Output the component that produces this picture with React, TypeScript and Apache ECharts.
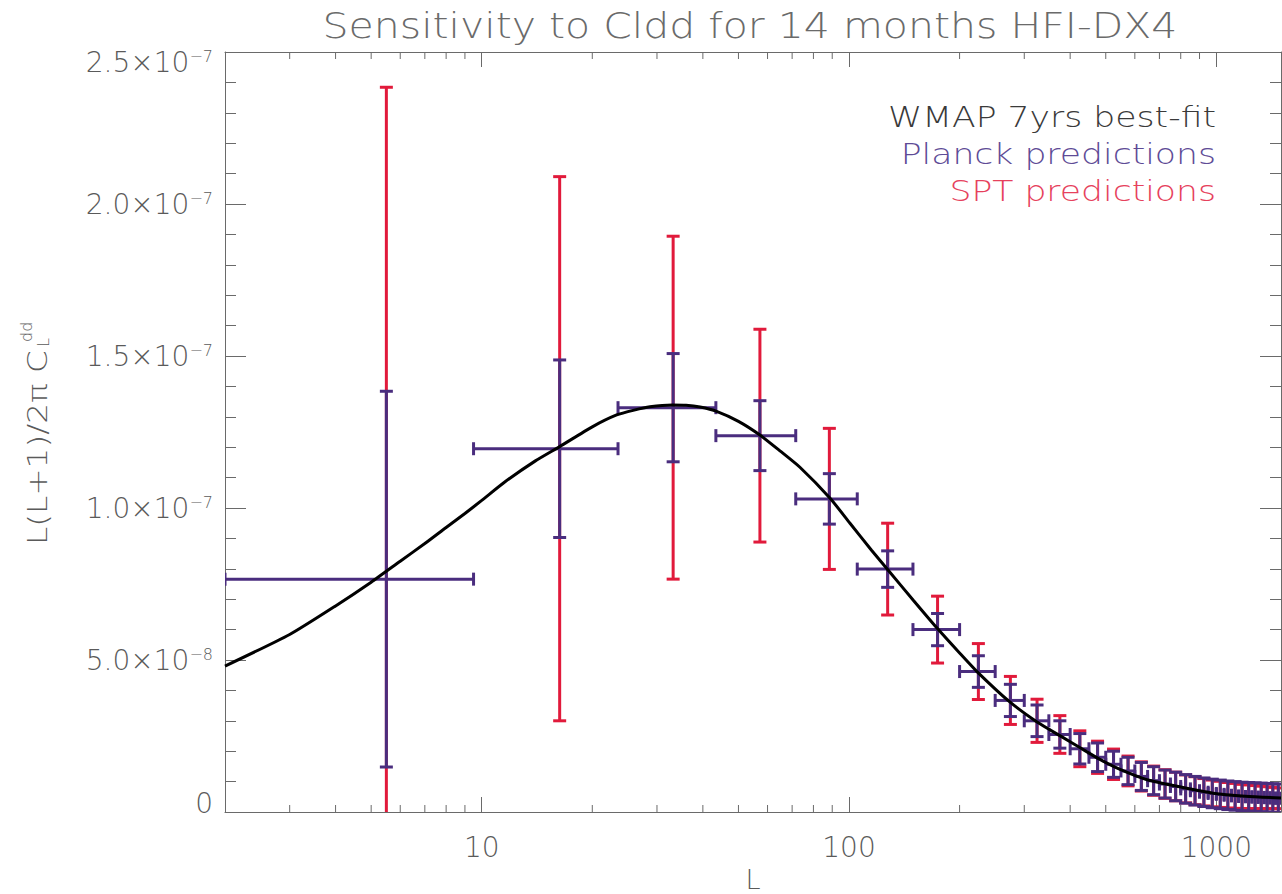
import React, { useEffect, useRef } from 'react';
import * as echarts from 'echarts';

const FONT = '"DejaVu Sans", "Open Sans", sans-serif';
const FW = 200;
const AXIS_COLOR = '#6a6a6a';
const LABEL_COLOR = '#5a5a5a';
const CURVE_COLOR = '#000000';
const PLANCK_COLOR = '#4a2d7e';
const SPT_COLOR = '#e11a3b';

const titleText = 'Sensitivity to Cldd for 14 months HFI-DX4';
const xAxisName = 'L';
const yNameMain = 'L(L+1)/2π C';
const yNameSub = 'L';
const yNameSup = 'dd';
const legendLabels = ['WMAP 7yrs best-fit', 'Planck predictions', 'SPT predictions'];
const legendColors = ['#3a3a3a', '#5e4b96', '#e6415c'];

const xMin = 2;
const xMax = 1500;
const xMinorTicks = [3, 4, 5, 6, 7, 8, 9, 20, 30, 40, 50, 60, 70, 80, 90, 200, 300, 400, 500, 600, 700, 800, 900];

const yMin = 0;
const yMax = 2.5e-7;
const yStep = 5e-8;
const yTickValues = [0, 5e-8, 1e-7, 1.5e-7, 2e-7, 2.5e-7];
const yTickMantissa = ['0', '5.0', '1.0', '1.5', '2.0', '2.5'];
const yTickExponent = ['', '−8', '−7', '−7', '−7', '−7'];

// WMAP 7yr best-fit lensing potential spectrum  L(L+1)/2pi C_L^dd
const curveL = [2, 3, 4, 5, 6, 7, 8, 9, 10, 11.6, 14, 16.3, 20, 23.3, 26, 28.7, 33, 36, 39.3, 43.6, 50, 57.2, 65, 73.5, 88.8, 100.6, 115, 127.7, 150, 173.6, 200, 223, 274, 325, 380, 425, 482, 547, 648, 800, 980, 1200, 1500];
const curveV = [4.8e-8, 5.84e-8, 6.78e-8, 7.56e-8, 8.25e-8, 8.83e-8, 9.36e-8, 9.82e-8, 1.025e-7, 1.087e-7, 1.155e-7, 1.202e-7, 1.267e-7, 1.306e-7, 1.322e-7, 1.333e-7, 1.339e-7, 1.338e-7, 1.332e-7, 1.318e-7, 1.285e-7, 1.24e-7, 1.187e-7, 1.134e-7, 1.032e-7, 9.5e-8, 8.62e-8, 7.96e-8, 6.95e-8, 6.05e-8, 5.23e-8, 4.62e-8, 3.62e-8, 2.96e-8, 2.47e-8, 2.12e-8, 1.73e-8, 1.4e-8, 1.06e-8, 8.2e-9, 6.2e-9, 5.2e-9, 4.6e-9];

// Binned predictions
const binCenter = [5.5, 16.3, 33.2, 57.2, 88.4, 127.4, 174.2, 225, 275, 325, 375, 425, 475, 525, 575, 625, 675, 725, 775, 825, 875, 925, 975, 1025, 1075, 1125, 1175, 1225, 1275, 1325, 1375, 1425, 1475];
const binLow = [2, 9.5, 23.5, 43.4, 71.6, 105.3, 149.3, 200, 250, 300, 350, 400, 450, 500, 550, 600, 650, 700, 750, 800, 850, 900, 950, 1000, 1050, 1100, 1150, 1200, 1250, 1300, 1350, 1400, 1450];
const binHigh = [9.5, 23.5, 43.4, 71.6, 105.3, 149.3, 200, 250, 300, 350, 400, 450, 500, 550, 600, 650, 700, 750, 800, 850, 900, 950, 1000, 1050, 1100, 1150, 1200, 1250, 1300, 1350, 1400, 1450, 1500];
const binValue = [7.66e-8, 1.195e-7, 1.33e-7, 1.238e-7, 1.03e-7, 7.99e-8, 6.0e-8, 4.62e-8, 3.67e-8, 3.0e-8, 2.55e-8, 2.08e-8, 1.8e-8, 1.57e-8, 1.35e-8, 1.17e-8, 1.03e-8, 9.2e-9, 8.4e-9, 7.6e-9, 7.0e-9, 6.5e-9, 6.1e-9, 5.8e-9, 5.5e-9, 5.3e-9, 5.1e-9, 5.0e-9, 4.9e-9, 4.8e-9, 4.7e-9, 4.6e-9, 4.5e-9];
const planckErr = [6.18e-8, 2.92e-8, 1.78e-8, 1.15e-8, 8.3e-9, 6.0e-9, 5.3e-9, 5.2e-9, 5.3e-9, 5.2e-9, 4.5e-9, 5.0e-9, 4.7e-9, 4.3e-9, 4.5e-9, 4.6e-9, 4.6e-9, 4.6e-9, 4.7e-9, 4.7e-9, 4.7e-9, 4.7e-9, 4.7e-9, 4.7e-9, 4.7e-9, 4.7e-9, 4.7e-9, 4.7e-9, 4.7e-9, 4.7e-9, 4.7e-9, 4.7e-9, 4.7e-9];
const sptErr = [1.618e-7, 8.95e-8, 5.64e-8, 3.5e-8, 2.32e-8, 1.51e-8, 1.1e-8, 9.2e-9, 7.9e-9, 7.1e-9, 6.2e-9, 5.9e-9, 5.3e-9, 5.0e-9, 4.9e-9, 4.8e-9, 4.8e-9, 4.7e-9, 4.7e-9, 4.6e-9, 4.6e-9, 4.5e-9, 4.4e-9, 4.3e-9, 4.2e-9, 4.1e-9, 4.0e-9, 3.9e-9, 3.8e-9, 3.7e-9, 3.6e-9, 3.5e-9, 3.4e-9];

function textWidth(t: string, size: number): number {
  const ctx = document.createElement('canvas').getContext('2d');
  if (!ctx) return t.length * size * 0.6;
  ctx.font = `${FW} ${size}px ${FONT}`;
  return ctx.measureText(t).width;
}

const CAP = 6.5;
const BAR_W = 3;

function makeErrorRender(color: string, withHorizontal: boolean) {
  return (params: any, api: any) => {
    const L = api.value(0);
    const v = api.value(1);
    const s = api.value(2);
    const lo = api.value(3);
    const hi = api.value(4);
    const top = api.coord([L, v + s]);
    const bot = api.coord([L, v - s]);
    const style = { stroke: color, lineWidth: BAR_W, fill: null };
    const children: any[] = [
      { type: 'line', shape: { x1: top[0], y1: top[1], x2: bot[0], y2: bot[1] }, style },
      { type: 'line', shape: { x1: top[0] - CAP, y1: top[1], x2: top[0] + CAP, y2: top[1] }, style },
      { type: 'line', shape: { x1: bot[0] - CAP, y1: bot[1], x2: bot[0] + CAP, y2: bot[1] }, style },
    ];
    if (withHorizontal) {
      const l = api.coord([lo, v]);
      const r = api.coord([hi, v]);
      children.push(
        { type: 'line', shape: { x1: l[0], y1: l[1], x2: r[0], y2: r[1] }, style },
        { type: 'line', shape: { x1: l[0], y1: l[1] - CAP, x2: l[0], y2: l[1] + CAP }, style },
        { type: 'line', shape: { x1: r[0], y1: r[1] - CAP, x2: r[0], y2: r[1] + CAP }, style }
      );
    }
    return { type: 'group', children };
  };
}

export default function App() {
  const ref = useRef<HTMLDivElement>(null);

  useEffect(() => {
    if (!ref.current) return;
    const chart = echarts.init(ref.current, null, { renderer: 'svg' });

    const curveData = curveL.map((L, i) => [L, curveV[i]]);
    const planckData = binCenter.map((L, i) => [L, binValue[i], planckErr[i], binLow[i], binHigh[i]]);
    const sptData = binCenter.map((L, i) => [L, binValue[i], sptErr[i], binLow[i], binHigh[i]]);

    const textBase = { fontFamily: FONT, fontWeight: FW };

    const yLabelFormatter = (v: number) => {
      const i = yTickValues.findIndex((t) => Math.abs(t - v) < 1e-12);
      if (i < 0) return '';
      if (i === 0) return `{lo|${yTickMantissa[0]}}`;
      const key = i === yTickValues.length - 1 ? 'hi' : 'm';
      return `{${key}|${yTickMantissa[i]}×10}{${key}e|${yTickExponent[i]}}`;
    };

    const mainSize = 28;
    const expSize = 16;
    const titleSize = 36;
    const legendSize = 28;
    const titleScale = 855 / textWidth(titleText, titleSize);
    const legendScale = 328 / textWidth(legendLabels[0], legendSize);
    const yNameScale = 195 / textWidth(yNameMain, 26);

    const axisCommonX = {
      type: 'log',
      logBase: 10,
      min: xMin,
      max: xMax,
      splitLine: { show: false },
      minorTick: { show: false },
      axisLine: { show: true, onZero: false, lineStyle: { color: AXIS_COLOR, width: 1 } },
      axisTick: { show: true, inside: true, length: 15, lineStyle: { color: AXIS_COLOR, width: 1 } },
    };
    const axisCommonY = {
      type: 'value',
      min: yMin,
      max: yMax,
      interval: yStep,
      splitLine: { show: false },
      minorSplitLine: { show: false },
      axisLine: { show: true, onZero: false, lineStyle: { color: AXIS_COLOR, width: 1 } },
      axisTick: { show: true, inside: true, length: 21, lineStyle: { color: AXIS_COLOR, width: 1 } },
      minorTick: { show: true, splitNumber: 5, length: 11, lineStyle: { color: AXIS_COLOR, width: 1 } },
    };

    const option: any = {
      animation: false,
      backgroundColor: '#ffffff',
      grid: { left: 225, top: 52, width: 1056, height: 760, containLabel: false, outerBoundsMode: 'none' },
      xAxis: [
        {
          ...axisCommonX,
          position: 'bottom',
          name: xAxisName,
          nameLocation: 'middle',
          nameGap: 54,
          nameTextStyle: { ...textBase, fontSize: 27, color: LABEL_COLOR },
          axisLabel: {
            show: true,
            showMinLabel: false,
            showMaxLabel: false,
            margin: 21,
            color: LABEL_COLOR,
            fontSize: mainSize,
            ...textBase,
            formatter: (v: number) => String(Math.round(v)),
          },
        },
        {
          ...axisCommonX,
          position: 'top',
          axisLabel: { show: false },
        },
      ],
      yAxis: [
        {
          ...axisCommonY,
          position: 'left',
          axisLabel: {
            show: true,
            margin: 12,
            color: LABEL_COLOR,
            formatter: yLabelFormatter,
            rich: {
              m: { ...textBase, fontSize: mainSize, color: LABEL_COLOR },
              me: { ...textBase, fontSize: expSize, color: LABEL_COLOR, verticalAlign: 'top' },
              hi: { ...textBase, fontSize: mainSize, color: LABEL_COLOR, padding: [20, 0, 0, 0] },
              hie: { ...textBase, fontSize: expSize, color: LABEL_COLOR, verticalAlign: 'top', padding: [20, 0, 0, 0] },
              lo: { ...textBase, fontSize: mainSize, color: LABEL_COLOR, padding: [0, 0, 18, 0] },
            },
          },
        },
        {
          ...axisCommonY,
          position: 'right',
          axisLabel: { show: false },
        },
      ],
      series: [
        {
          name: 'x minor ticks',
          type: 'custom',
          xAxisIndex: 0,
          yAxisIndex: 0,
          silent: true,
          clip: false,
          data: xMinorTicks.map((L) => [L]),
          encode: { x: 0 },
          renderItem: (params: any, api: any) => {
            const L = api.value(0);
            const b = api.coord([L, yMin]);
            const t = api.coord([L, yMax]);
            const st = { stroke: AXIS_COLOR, lineWidth: 1 };
            return {
              type: 'group',
              children: [
                { type: 'line', shape: { x1: b[0], y1: b[1], x2: b[0], y2: b[1] - 7 }, style: st },
                { type: 'line', shape: { x1: t[0], y1: t[1], x2: t[0], y2: t[1] + 7 }, style: st },
              ],
            };
          },
        },
        {
          name: legendLabels[0],
          type: 'line',
          data: curveData,
          symbol: 'none',
          smooth: 0.2,
          clip: true,
          lineStyle: { color: CURVE_COLOR, width: 3 },
        },
        {
          name: legendLabels[2],
          type: 'custom',
          clip: true,
          data: sptData,
          encode: { x: 0, y: 1 },
          renderItem: makeErrorRender(SPT_COLOR, false),
        },
        {
          name: legendLabels[1],
          type: 'custom',
          clip: true,
          data: planckData,
          encode: { x: 0, y: 1 },
          renderItem: makeErrorRender(PLANCK_COLOR, true),
        },
      ],
      graphic: [
        {
          type: 'text',
          x: 750,
          y: 25,
          scaleX: titleScale,
          style: { text: titleText, ...textBase, fontSize: titleSize, fill: '#6a6a6a', align: 'center', verticalAlign: 'middle' },
        },
        ...legendLabels.map((t, i) => ({
          type: 'text',
          x: 1216,
          y: [117, 154, 191][i],
          scaleX: legendScale,
          style: { text: t, ...textBase, fontSize: legendSize, fill: legendColors[i], align: 'right', verticalAlign: 'middle' },
        })),
        {
          type: 'group',
          x: 38,
          y: 545,
          rotation: Math.PI / 2,
          children: [
            {
              type: 'text',
              x: 0,
              y: 0,
              scaleX: yNameScale,
              style: { text: yNameMain, ...textBase, fontSize: 26, fill: LABEL_COLOR, align: 'left', verticalAlign: 'middle' },
            },
            {
              type: 'text',
              x: 198,
              y: 5,
              style: { text: yNameSub, ...textBase, fontSize: 16, fill: LABEL_COLOR, align: 'left', verticalAlign: 'middle' },
            },
            {
              type: 'text',
              x: 203,
              y: -12,
              style: { text: yNameSup, ...textBase, fontSize: 16, fill: LABEL_COLOR, align: 'left', verticalAlign: 'middle' },
            },
          ],
        },
      ],
    };

    chart.setOption(option);
    return () => chart.dispose();
  }, []);

  return (
    <div
      ref={ref}
      style={{ position: 'fixed', left: 0, top: 0, width: 1282, height: 894, background: '#ffffff' }}
    />
  );
}
